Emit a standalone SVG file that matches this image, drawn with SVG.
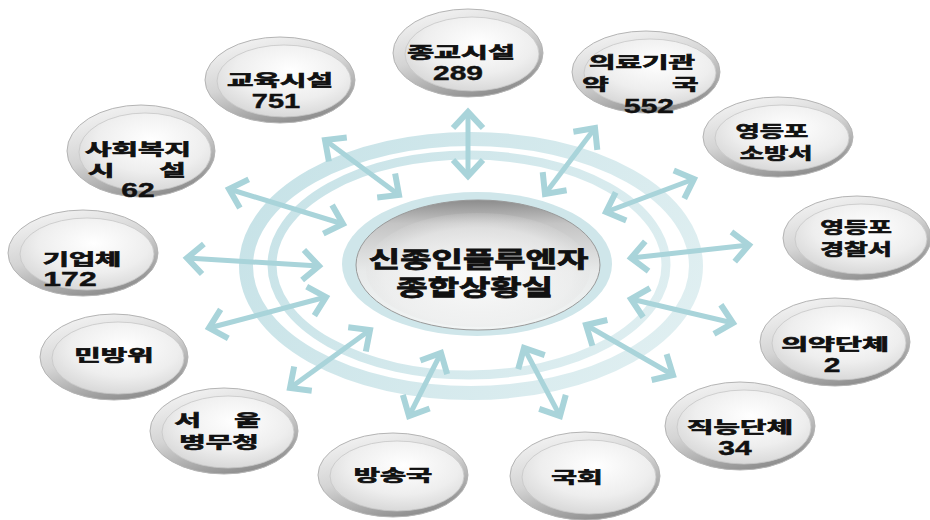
<svg xmlns="http://www.w3.org/2000/svg" width="930" height="520" viewBox="0 0 930 520">
<defs>
<linearGradient id="rimG" x1="0.15" y1="0" x2="0.6" y2="1">
<stop offset="0" stop-color="#f6f6f6"/>
<stop offset="0.5" stop-color="#d4d4d4"/>
<stop offset="1" stop-color="#8e8e8e"/>
</linearGradient>
<radialGradient id="faceG" cx="0.55" cy="0.35" r="0.75">
<stop offset="0" stop-color="#ffffff"/>
<stop offset="0.55" stop-color="#eeeeee"/>
<stop offset="1" stop-color="#d0d0d0"/>
</radialGradient>
<linearGradient id="ringG" gradientUnits="userSpaceOnUse" x1="260" y1="140" x2="690" y2="400">
<stop offset="0" stop-color="#c6e2e7"/>
<stop offset="1" stop-color="#e2f0f2"/>
</linearGradient>
<linearGradient id="hubG" x1="0" y1="0" x2="0" y2="1">
<stop offset="0" stop-color="#8c8c8c"/>
<stop offset="0.18" stop-color="#c4c4c4"/>
<stop offset="0.55" stop-color="#e8eaea"/>
<stop offset="1" stop-color="#f2f5f5"/>
</linearGradient>
<radialGradient id="hubFace" cx="0.5" cy="0.55" r="0.6">
<stop offset="0" stop-color="#ffffff" stop-opacity="0.9"/>
<stop offset="0.7" stop-color="#eeeeee" stop-opacity="0.6"/>
<stop offset="1" stop-color="#d6d6d6" stop-opacity="0"/>
</radialGradient>
<marker id="hd" markerUnits="userSpaceOnUse" markerWidth="40" markerHeight="40" refX="0" refY="0" viewBox="-25 -20 30 40" orient="auto-start-reverse" overflow="visible">
<path d="M-16,-15 L0,0 L-16,15" fill="none" stroke="#a9d4da" stroke-width="6"/>
</marker>
</defs>
<style>
.band{fill:none;stroke:url(#ringG)}
.ar{stroke:#a9d4da;stroke-width:5;fill:none;marker-start:url(#hd);marker-end:url(#hd)}
.rim{fill:url(#rimG);stroke:#b4b4b4;stroke-width:1}
.face{fill:url(#faceG);stroke:#c6c6c6;stroke-width:0.8}
.k{font-family:"Noto Sans CJK KR","Liberation Sans",sans-serif;font-weight:700;font-size:16px;fill:#111;stroke:#111;stroke-width:0.7;text-anchor:middle}
.n{font-family:"Liberation Sans","Noto Sans CJK KR",sans-serif;font-weight:700;font-size:20px;fill:#111;stroke:#111;stroke-width:0.4;text-anchor:middle}
.c{font-family:"Noto Sans CJK KR","Liberation Sans",sans-serif;font-weight:700;font-size:22px;fill:#111;stroke:#111;stroke-width:0.8;text-anchor:middle}
</style>
<rect width="930" height="520" fill="#ffffff"/>
<g id="rings">
<ellipse class="band" cx="471" cy="266" rx="225" ry="127" stroke-width="14"/>
<ellipse class="band" cx="469" cy="265" rx="197" ry="110" stroke-width="9"/>
</g>
<g id="connectors">
<line class="ar" x1="468" y1="112" x2="468" y2="176"/>
<line class="ar" x1="325" y1="140" x2="399" y2="195"/>
<line class="ar" x1="595" y1="128" x2="545" y2="194"/>
<line class="ar" x1="694" y1="179" x2="606" y2="212"/>
<line class="ar" x1="749" y1="245" x2="631" y2="258"/>
<line class="ar" x1="631" y1="299" x2="733" y2="323"/>
<line class="ar" x1="586" y1="325" x2="673" y2="375"/>
<line class="ar" x1="524" y1="348" x2="560" y2="416"/>
<line class="ar" x1="441" y1="353" x2="409" y2="416"/>
<line class="ar" x1="370" y1="330" x2="290" y2="388"/>
<line class="ar" x1="326" y1="297" x2="209" y2="328"/>
<line class="ar" x1="187" y1="258" x2="319" y2="266"/>
<line class="ar" x1="229" y1="189" x2="343" y2="224"/>
</g>
<g id="hub">
<ellipse cx="477" cy="264" rx="135" ry="72" fill="#cfe6ea"/>
<ellipse cx="478" cy="265" rx="122" ry="65" fill="url(#hubG)" stroke="#9a9a9a" stroke-width="1"/>
<ellipse cx="478" cy="270" rx="112" ry="57" fill="url(#hubFace)"/>
<text class="c" transform="translate(477 0) scale(1.55 1)"><tspan x="1" y="267.5">신종인플루엔자</tspan><tspan x="-1.5" y="295.5">종합상황실</tspan></text>
</g>
<g id="n1">
<ellipse class="rim" cx="468" cy="53" rx="75" ry="44"/>
<ellipse class="face" cx="472" cy="54" rx="67" ry="37"/>
<text class="k" transform="translate(461 0) scale(1.83 1)"><tspan x="0" y="58.5">종교시설</tspan></text>
<text class="n" transform="translate(458 0) scale(1.5 1)"><tspan x="0" y="80">289</tspan></text>
</g>
<g id="n2">
<ellipse class="rim" cx="280" cy="80" rx="75" ry="43"/>
<ellipse class="face" cx="284" cy="81" rx="67" ry="36"/>
<text class="k" transform="translate(280 0) scale(1.8 1)"><tspan x="0" y="86.5">교육시설</tspan></text>
<text class="n" transform="translate(276 0) scale(1.45 1)"><tspan x="0" y="108">751</tspan></text>
</g>
<g id="n3">
<ellipse class="rim" cx="646" cy="72" rx="74" ry="41"/>
<ellipse class="face" cx="650" cy="73" rx="66" ry="34"/>
<text class="k" transform="translate(642 0) scale(1.8 1)"><tspan x="0" y="68.5">의료기관</tspan><tspan x="-24" y="90.5">약 </tspan><tspan x="24" y="90.5">국</tspan></text>
<text class="n" transform="translate(649 0) scale(1.5 1)"><tspan x="0" y="113">552</tspan></text>
</g>
<g id="n4">
<ellipse class="rim" cx="778" cy="137" rx="75" ry="40"/>
<ellipse class="face" cx="782" cy="138" rx="67" ry="33"/>
<text class="k" transform="translate(774 0) scale(1.65 1)"><tspan x="-1.3" y="137.5">영등포</tspan><tspan x="1.3" y="159.5">소방서</tspan></text>
</g>
<g id="n5">
<ellipse class="rim" cx="857" cy="238" rx="74" ry="42"/>
<ellipse class="face" cx="861" cy="239" rx="66" ry="35"/>
<text class="k" transform="translate(856 0) scale(1.62 1)"><tspan x="0" y="233.5">영등포</tspan><tspan x="0" y="255.5">경찰서</tspan></text>
</g>
<g id="n6">
<ellipse class="rim" cx="835" cy="342" rx="75" ry="44"/>
<ellipse class="face" cx="839" cy="343" rx="67" ry="37"/>
<text class="k" transform="translate(835 0) scale(1.83 1)"><tspan x="0" y="350.5">의약단체</tspan></text>
<text class="n" transform="translate(832 0) scale(1.5 1)"><tspan x="0" y="372">2</tspan></text>
</g>
<g id="n7">
<ellipse class="rim" cx="740" cy="426" rx="75" ry="44"/>
<ellipse class="face" cx="744" cy="427" rx="67" ry="37"/>
<text class="k" transform="translate(740 0) scale(1.8 1)"><tspan x="0" y="433.5">직능단체</tspan></text>
<text class="n" transform="translate(735 0) scale(1.5 1)"><tspan x="0" y="455">34</tspan></text>
</g>
<g id="n8">
<ellipse class="rim" cx="585" cy="476" rx="75" ry="44"/>
<ellipse class="face" cx="589" cy="477" rx="67" ry="37"/>
<text class="k" transform="translate(577 0) scale(1.75 1)"><tspan x="0" y="483.5">국회</tspan></text>
</g>
<g id="n9">
<ellipse class="rim" cx="393" cy="475" rx="75" ry="42"/>
<ellipse class="face" cx="397" cy="476" rx="67" ry="35"/>
<text class="k" transform="translate(393 0) scale(1.78 1)"><tspan x="0" y="481.5">방송국</tspan></text>
</g>
<g id="n10">
<ellipse class="rim" cx="224" cy="431" rx="74" ry="43"/>
<ellipse class="face" cx="228" cy="432" rx="66" ry="36"/>
<text class="k" transform="translate(219 0) scale(1.8 1)"><tspan x="-15.5" y="426.5">서 </tspan><tspan x="15.8" y="426.5">울</tspan><tspan x="0" y="448.5">병무청</tspan></text>
</g>
<g id="n11">
<ellipse class="rim" cx="114" cy="357" rx="74" ry="43"/>
<ellipse class="face" cx="118" cy="358" rx="66" ry="36"/>
<text class="k" transform="translate(114 0) scale(1.8 1)"><tspan x="0" y="361.5">민방위</tspan></text>
</g>
<g id="n12">
<ellipse class="rim" cx="83" cy="253" rx="75" ry="43"/>
<ellipse class="face" cx="87" cy="254" rx="67" ry="36"/>
<text class="k" transform="translate(82 0) scale(1.78 1)"><tspan x="0" y="265">기업체</tspan></text>
<text class="n" transform="translate(70 0) scale(1.6 1)"><tspan x="0" y="286">172</tspan></text>
</g>
<g id="n13">
<ellipse class="rim" cx="141" cy="151" rx="74" ry="46"/>
<ellipse class="face" cx="145" cy="152" rx="66" ry="39"/>
<text class="k" transform="translate(138 0) scale(1.8 1)"><tspan x="0" y="155.5">사회복지</tspan><tspan x="-18.6" y="176.5">시 </tspan><tspan x="19.2" y="176.5">설</tspan></text>
<text class="n" transform="translate(138 0) scale(1.5 1)"><tspan x="0" y="197">62</tspan></text>
</g>
</svg>
